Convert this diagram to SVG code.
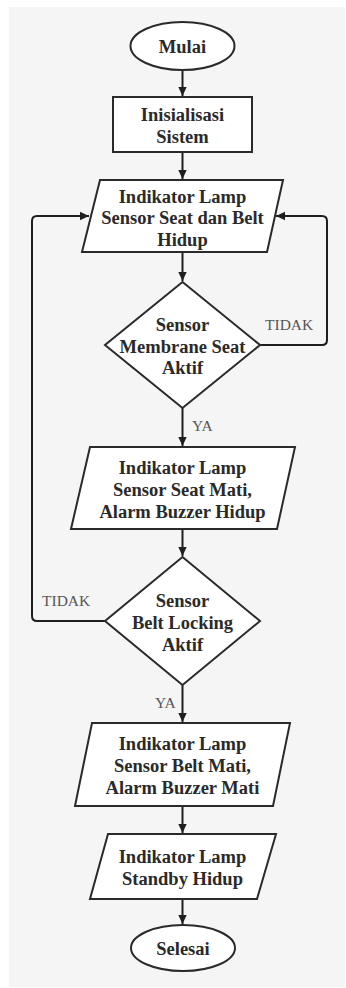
<svg xmlns="http://www.w3.org/2000/svg" width="346" height="988" viewBox="0 0 346 988">
<defs>
<marker id="ah" markerWidth="10" markerHeight="10" refX="9" refY="5" orient="auto" markerUnits="userSpaceOnUse">
<path d="M0,0.8 L9,5 L0,9.2 Z" fill="#1e1e1e"/>
</marker>
<style>
.sh{fill:#ffffff;stroke:#2a2a2a;stroke-width:2}
.t{font-weight:bold;font-size:18.5px;fill:#2a2a2a;text-anchor:middle;dominant-baseline:central}
.lb{font-size:15.5px;fill:#555;dominant-baseline:central}
.c{fill:none;stroke:#1e1e1e;stroke-width:2;marker-end:url(#ah)}
</style>
</defs>
<rect x="0" y="0" width="346" height="988" fill="#ffffff"/>
<rect x="9" y="7" width="336" height="980" fill="#f5f5f5"/>
<g id="connectors">
<path class="c" d="M182.5,70 V96"/>
<path class="c" d="M182.5,152 V179"/>
<path class="c" d="M182.5,252 V281"/>
<path class="c" d="M182.5,408 V446"/>
<path class="c" d="M182.5,529 V556"/>
<path class="c" d="M182.5,685 V722"/>
<path class="c" d="M182.5,806 V833"/>
<path class="c" d="M182.5,899 V924"/>
<path class="c" d="M260,345 H322 Q327,345 327,340 V221 Q327,216 322,216 H276"/>
<path class="c" d="M105,621 H37 Q32,621 32,616 V221 Q32,216 37,216 H89"/>
</g>
<g font-family="Liberation Serif, Times New Roman, serif">
<g id="labels">
<text class="lb" x="265" y="324">TIDAK</text>
<text class="lb" x="192" y="425">YA</text>
<text class="lb" x="42" y="600">TIDAK</text>
<text class="lb" x="155" y="702">YA</text>
</g>
<g id="mulai">
<ellipse class="sh" cx="182.5" cy="46" rx="52" ry="24"/>
<text class="t" x="182.5" y="47">Mulai</text>
</g>
<g id="inisialisasi">
<rect class="sh" x="113" y="97" width="139" height="55"/>
<text class="t" x="182.5" y="115">Inisialisasi</text>
<text class="t" x="182.5" y="137">Sistem</text>
</g>
<g id="lamp-hidup">
<polygon class="sh" points="100,180 283,180 267,252 82,252"/>
<text class="t" x="182.5" y="197">Indikator Lamp</text>
<text class="t" x="182.5" y="218">Sensor Seat dan Belt</text>
<text class="t" x="182.5" y="240">Hidup</text>
</g>
<g id="sensor-seat">
<polygon class="sh" points="182.5,282 260,345 182.5,408 105,345"/>
<text class="t" x="182.5" y="325">Sensor</text>
<text class="t" x="182.5" y="347">Membrane Seat</text>
<text class="t" x="182.5" y="368">Aktif</text>
</g>
<g id="seat-mati">
<polygon class="sh" points="90,447 295,447 277,529 71,529"/>
<text class="t" x="182.5" y="468">Indikator Lamp</text>
<text class="t" x="182.5" y="490">Sensor Seat Mati,</text>
<text class="t" x="182.5" y="512">Alarm Buzzer Hidup</text>
</g>
<g id="sensor-belt">
<polygon class="sh" points="182.5,557 260,621 182.5,685 105,621"/>
<text class="t" x="182.5" y="601">Sensor</text>
<text class="t" x="182.5" y="623">Belt Locking</text>
<text class="t" x="182.5" y="645">Aktif</text>
</g>
<g id="belt-mati">
<polygon class="sh" points="92,723 290,723 273,806 75,806"/>
<text class="t" x="182.5" y="744">Indikator Lamp</text>
<text class="t" x="182.5" y="766">Sensor Belt Mati,</text>
<text class="t" x="182.5" y="788">Alarm Buzzer Mati</text>
</g>
<g id="standby">
<polygon class="sh" points="108,834 276,834 257,899 90,899"/>
<text class="t" x="182.5" y="857">Indikator Lamp</text>
<text class="t" x="182.5" y="879">Standby Hidup</text>
</g>
<g id="selesai">
<ellipse class="sh" cx="183" cy="948" rx="52" ry="23"/>
<text class="t" x="183" y="949">Selesai</text>
</g>
</g>
</svg>
